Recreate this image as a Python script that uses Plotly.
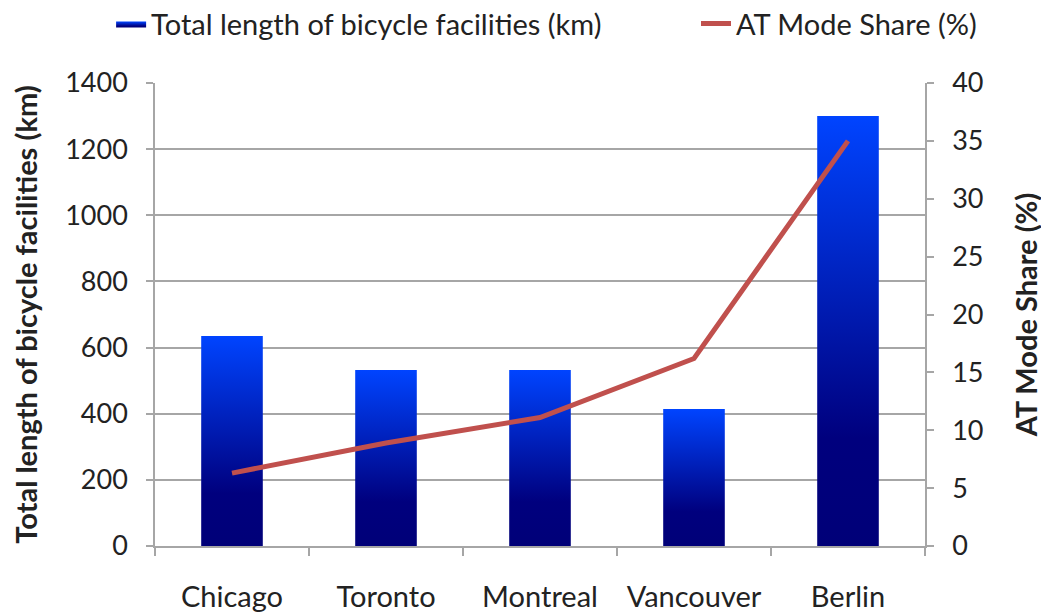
import plotly.graph_objects as go

cities = ["Chicago", "Toronto", "Montreal", "Vancouver", "Berlin"]
facilities_km = [635, 532, 532, 414, 1300]
at_mode_share = [6.3, 8.9, 11.1, 16.2, 35.0]

bar_half = 0.2
grid_gray = "#A6A6A6"
font_family = "Lato, 'Open Sans', sans-serif"

fig = go.Figure()

for i, (c, v) in enumerate(zip(cities, facilities_km)):
    fig.add_trace(go.Scatter(
        x=[i - bar_half, i - bar_half, i + bar_half, i + bar_half, i - bar_half],
        y=[0, v, v, 0, 0],
        mode="lines",
        line=dict(width=0),
        fill="toself",
        fillcolor="#0022C0",
        fillgradient=dict(type="vertical", start=0, stop=v,
                          colorscale=[[0, "#000078"], [0.25, "#00007E"], [1, "#0044FF"]]),
        name="Total length of bicycle facilities (km)",
        legend="legend",
        legendgroup="bars",
        showlegend=(i == 0),
        hoverinfo="text",
        text=f"{c}: {v} km",
    ))

fig.add_trace(go.Scatter(
    x=list(range(len(cities))),
    y=at_mode_share,
    mode="lines",
    line=dict(color="#C0504D", width=5),
    name="AT Mode Share (%)",
    legend="legend2",
    yaxis="y2",
))

legend_common = dict(orientation="h", yanchor="middle", y=1.128, xanchor="left",
                     font=dict(size=29, color="#222222"), itemwidth=30,
                     bgcolor="rgba(0,0,0,0)")

fig.update_layout(
    width=1041, height=607,
    margin=dict(l=147, r=124, t=75, b=69, autoexpand=False),
    paper_bgcolor="white", plot_bgcolor="white",
    font=dict(family=font_family, color="#222222", size=28),
    showlegend=True,
    legend=dict(x=-0.057, **legend_common),
    legend2=dict(x=0.7026, **legend_common),
    xaxis=dict(
        range=[-0.5, 4.5], tickmode="array", tickvals=list(range(len(cities))),
        ticktext=cities, ticks="", showgrid=False, zeroline=False,
        showline=True, linecolor=grid_gray, linewidth=1.5,
        tickfont=dict(size=29), ticklabelstandoff=24,
        minor=dict(tickmode="array", tickvals=[i - 0.5 for i in range(len(cities) + 1)],
                   ticks="outside", ticklen=8, tickcolor=grid_gray, tickwidth=1.5, showgrid=False),
    ),
    yaxis=dict(
        range=[0, 1400], dtick=200, showgrid=True, gridcolor=grid_gray, gridwidth=1.5,
        zeroline=False, showline=True, linecolor=grid_gray, linewidth=1.5,
        ticks="outside", ticklen=7, tickcolor=grid_gray, tickwidth=1.5,
        tickfont=dict(size=27), ticklabelstandoff=13,
        title=dict(text="<b>Total length of bicycle facilities (km)</b>", font=dict(size=29), standoff=22),
    ),
    yaxis2=dict(
        range=[0, 40], dtick=5, overlaying="y", side="right", showgrid=False,
        zeroline=False, showline=True, linecolor=grid_gray, linewidth=1.5,
        ticks="outside", ticklen=7, tickcolor=grid_gray, tickwidth=1.5,
        tickfont=dict(size=27), ticklabelstandoff=13,
        title=dict(text="<b>AT Mode Share (%)</b>", font=dict(size=29), standoff=34),
    ),
)

fig.write_html("out.html")
